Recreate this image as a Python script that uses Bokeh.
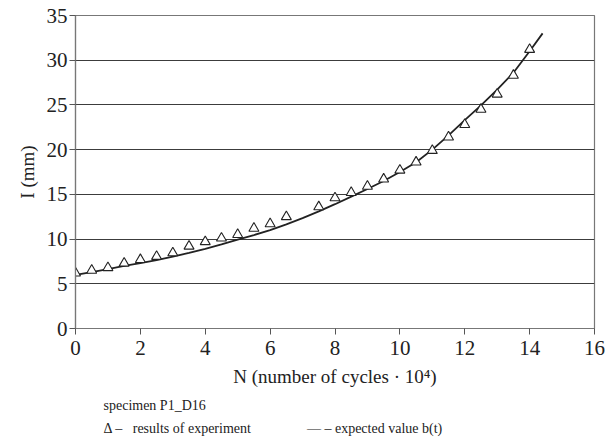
from bokeh.plotting import figure
from bokeh.models import Range1d, FixedTicker, Title
from bokeh.embed import file_html
from bokeh.resources import INLINE

# experiment results
exp_n = [0, 0.5, 1, 1.5, 2, 2.5, 3, 3.5, 4, 4.5, 5, 5.5, 6, 6.5,
         7.5, 8, 8.5, 9, 9.5, 10, 10.5, 11, 11.5, 12, 12.5, 13, 13.5, 14]
exp_l = [6.2, 6.5, 6.8, 7.3, 7.7, 8.05, 8.45, 9.2, 9.7, 10.1, 10.5, 11.2, 11.7, 12.5,
         13.6, 14.6, 15.2, 15.9, 16.7, 17.7, 18.6, 19.9, 21.4, 22.8, 24.5, 26.2, 28.3, 31.2]

# expected value b(t)
fit_n = [0, 0.5, 1, 1.5, 2, 2.5, 3, 3.5, 4, 4.5, 5, 5.5, 6, 6.5, 7, 7.5, 8, 8.5, 9, 9.5,
         10, 10.5, 11, 11.5, 12, 12.5, 13, 13.5, 14, 14.4]
fit_l = [6.0, 6.3, 6.65, 7.0, 7.3, 7.65, 8.05, 8.45, 8.9, 9.4, 9.95, 10.45, 11.0, 11.65,
         12.35, 13.1, 13.9, 14.75, 15.6, 16.5, 17.5, 18.6, 20.0, 21.6, 23.3, 24.95, 26.7,
         28.6, 31.0, 33.0]

x_ticks = [0, 2, 4, 6, 8, 10, 12, 14, 16]
y_ticks = [0, 5, 10, 15, 20, 25, 30, 35]

x_title = "N (number of cycles \u00b7 10\u2074)"
y_title = "I (mm)"
note_1 = "specimen P1_D16"
note_2 = ("\u0394 \u2013\u00a0\u00a0 results of experiment" + "\u00a0" * 16
          + "\u2014 \u2013 expected value b(t)")

FONT = "Liberation Serif"

p = figure(width=610, height=443, output_backend="svg", toolbar_location=None,
           x_range=Range1d(0, 16), y_range=Range1d(0, 35),
           min_border_left=75, min_border_right=16, min_border_top=15, min_border_bottom=115)
p.background_fill_color = "white"
p.border_fill_color = "white"
p.outline_line_color = "#777777"
p.outline_line_width = 1.2

p.xgrid.visible = False
p.ygrid.ticker = FixedTicker(ticks=y_ticks)
p.ygrid.grid_line_color = "#3c3c3c"
p.ygrid.grid_line_width = 1.2

for ax, ticks in ((p.xaxis[0], x_ticks), (p.yaxis[0], y_ticks)):
    ax.ticker = FixedTicker(ticks=ticks)
    ax.minor_tick_line_color = None
    ax.major_tick_in = 0
    ax.major_tick_out = 6
    ax.major_tick_line_color = "#555555"
    ax.axis_line_color = "#777777"
    ax.axis_line_width = 1.2
    ax.major_label_text_font = FONT
    ax.major_label_text_font_size = "21px"
    ax.major_label_text_color = "#222222"
    ax.axis_label_text_font = FONT
    ax.axis_label_text_font_size = "19px"
    ax.axis_label_text_font_style = "normal"
    ax.axis_label_text_color = "#222222"
p.xaxis.major_label_standoff = 6
p.yaxis.major_label_standoff = 2
p.xaxis.axis_label = x_title
p.yaxis.axis_label = y_title
p.xaxis.axis_label_standoff = 8
p.yaxis.axis_label_standoff = 6

p.line(fit_n, fit_l, line_color="#222222", line_width=1.8)
p.scatter(exp_n, exp_l, marker="triangle", size=10, fill_color="white",
          line_color="#222222", line_width=1.1)

for txt, so in ((note_1, 12), (note_2, 0)):
    p.add_layout(Title(text=txt, align="left", offset=28, text_font=FONT,
                       text_font_size="14px", text_font_style="normal",
                       text_color="#222222", standoff=so), "below")

open("out.html", "w").write(file_html(p, INLINE))
